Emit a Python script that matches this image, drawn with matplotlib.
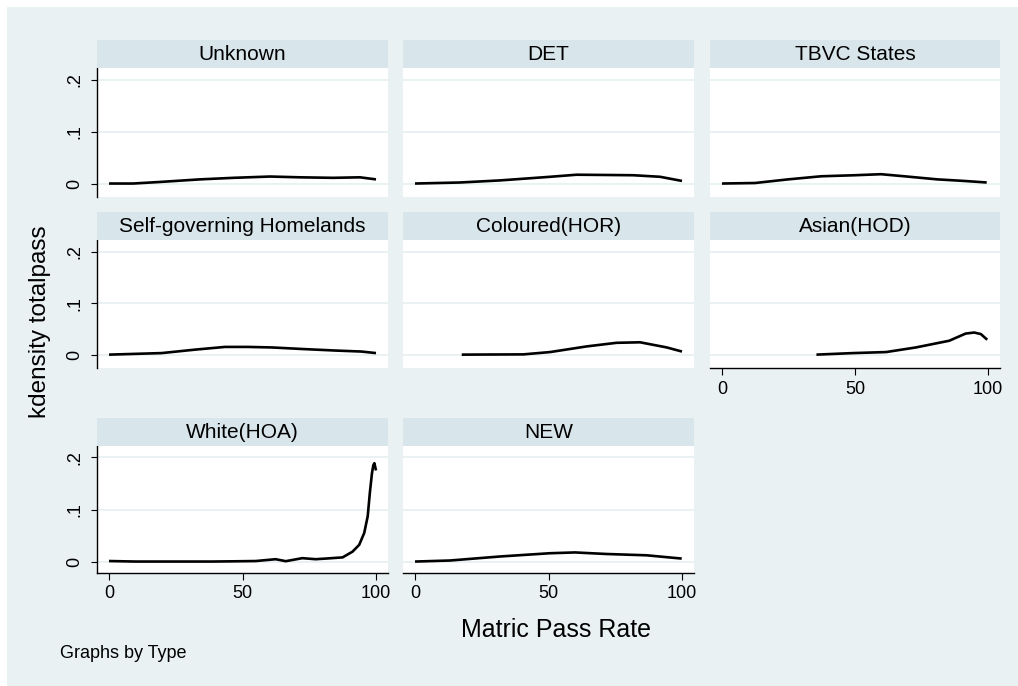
import matplotlib
matplotlib.use('Agg')
import matplotlib.pyplot as plt
from matplotlib.patches import Rectangle

plt.rcParams['font.family'] = ['Liberation Sans', 'DejaVu Sans']

# kdensity of totalpass by Type
titles = ['Unknown', 'DET', 'TBVC States', 'Self-governing Homelands',
          'Coloured(HOR)', 'Asian(HOD)', 'White(HOA)', 'NEW']

unknown_x = [0, 9, 19, 34, 46.6, 60.3, 71.5, 84, 94, 100]
unknown_y = [0.000, 0.000, 0.003, 0.008, 0.011, 0.0135, 0.012, 0.011, 0.012, 0.008]

det_x = [0, 16.9, 31.8, 50.6, 60.5, 71.8, 81.8, 91.8, 100]
det_y = [0.000, 0.002, 0.006, 0.013, 0.017, 0.0165, 0.016, 0.013, 0.005]

tbvc_x = [0, 12.4, 24.8, 37.3, 49.8, 59.8, 68.5, 81, 91, 99.5]
tbvc_y = [0.000, 0.001, 0.008, 0.014, 0.016, 0.018, 0.014, 0.008, 0.005, 0.002]

selfgov_x = [0, 19.7, 32.2, 43.4, 52, 60.9, 72.2, 84.6, 94.6, 100]
selfgov_y = [0.000, 0.003, 0.0097, 0.015, 0.015, 0.014, 0.011, 0.008, 0.006, 0.003]

coloured_x = [17.5, 40.6, 50.6, 64.3, 75.5, 84.3, 94.3, 100]
coloured_y = [0.000, 0.0005, 0.005, 0.016, 0.023, 0.024, 0.014, 0.006]

asian_x = [35.5, 49.2, 61.7, 72.9, 85.4, 91.6, 94.8, 97.3, 99.7]
asian_y = [0.000, 0.003, 0.005, 0.014, 0.027, 0.041, 0.043, 0.040, 0.029]

white_x = [0, 10, 20, 30, 38.6, 47.4, 55, 62.4, 66.2, 72.4, 77.4, 82, 87.5,
           91.2, 93.7, 95.6, 96.9, 97.7, 98.5, 99.0, 99.4, 100]
white_y = [0.001, 0, 0, 0, 0, 0.0005, 0.001, 0.0045, 0.0007, 0.0065, 0.0045,
           0.006, 0.008, 0.019, 0.032, 0.055, 0.087, 0.132, 0.17, 0.185,
           0.189, 0.175]

new_x = [0, 13.1, 31.8, 50.6, 59.9, 71.8, 86.8, 99.9]
new_y = [0.000, 0.002, 0.0097, 0.016, 0.0175, 0.0145, 0.012, 0.0057]

series = [(unknown_x, unknown_y), (det_x, det_y), (tbvc_x, tbvc_y),
          (selfgov_x, selfgov_y), (coloured_x, coloured_y),
          (asian_x, asian_y), (white_x, white_y), (new_x, new_y)]

y_ticks = [0, 0.1, 0.2]
y_labels = ['0', '.1', '.2']
x_ticks = [0, 50, 100]
x_labels = ['0', '50', '100']

W, H = 1018, 686
bg = '#EAF1F3'
strip_col = '#D8E5EB'

fig = plt.figure(figsize=(W / 100, H / 100), dpi=100)
fig.patch.set_facecolor('white')
fig.add_artist(Rectangle((7 / W, 0), 1, (H - 7) / H, transform=fig.transFigure,
                         facecolor=bg, edgecolor='none', zorder=-10))

# pixel layout of the grid
col_left = [97, 403, 710]
col_w = [291, 291, 290]
row_top = [68, 240, 446]
row_bot = [197, 368, 573]
ylims = [(-0.026, 0.223), (-0.026, 0.223), (-0.022, 0.222)]
strip_h = 28

for i, (title, (xs, ys)) in enumerate(zip(titles, series)):
    r, c = divmod(i, 3)
    l, w = col_left[c], col_w[c]
    t, b = row_top[r], row_bot[r]
    ax = fig.add_axes([l / W, 1 - b / H, w / W, (b - t) / H])
    ax.set_facecolor('white')
    ax.plot(xs, ys, color='black', lw=1.9, solid_joinstyle='round',
            solid_capstyle='butt')
    ax.set_xlim(-4.5, 104.5)
    ax.set_ylim(*ylims[r])
    for yv in y_ticks:
        ax.axhline(yv, color=bg, lw=1.4, zorder=0)
    for s in ax.spines.values():
        s.set_visible(False)

    if c == 0:
        ax.spines['left'].set_visible(True)
        ax.spines['left'].set_linewidth(1.0)
        ax.set_yticks(y_ticks)
        ax.set_yticklabels(y_labels, rotation=90, va='center', fontsize=13)
        ax.tick_params(axis='y', length=4, width=0.8, pad=6)
    else:
        ax.set_yticks([])

    if i in (5, 6, 7):
        ax.spines['bottom'].set_visible(True)
        ax.spines['bottom'].set_linewidth(1.0)
        ax.set_xticks(x_ticks)
        ax.set_xticklabels(x_labels, fontsize=13)
        ax.tick_params(axis='x', length=5, width=0.8, pad=4)
    else:
        ax.set_xticks([])

    sax = fig.add_axes([l / W, 1 - t / H, w / W, strip_h / H])
    sax.set_facecolor(strip_col)
    sax.set_xticks([])
    sax.set_yticks([])
    for s in sax.spines.values():
        s.set_visible(False)
    sax.text(0.5, 0.48, title, ha='center', va='center', fontsize=15,
             transform=sax.transAxes)

fig.text(40 / W, 1 - 322 / H, 'kdensity totalpass', rotation=90,
         ha='center', va='center', fontsize=17.5)
fig.text(556 / W, 1 - 630 / H, 'Matric Pass Rate', ha='center', va='center',
         fontsize=18)
fig.text(60 / W, 1 - 653 / H, 'Graphs by Type', ha='left', va='center',
         fontsize=13)

fig.savefig('out.png', dpi=100, facecolor=fig.get_facecolor())
